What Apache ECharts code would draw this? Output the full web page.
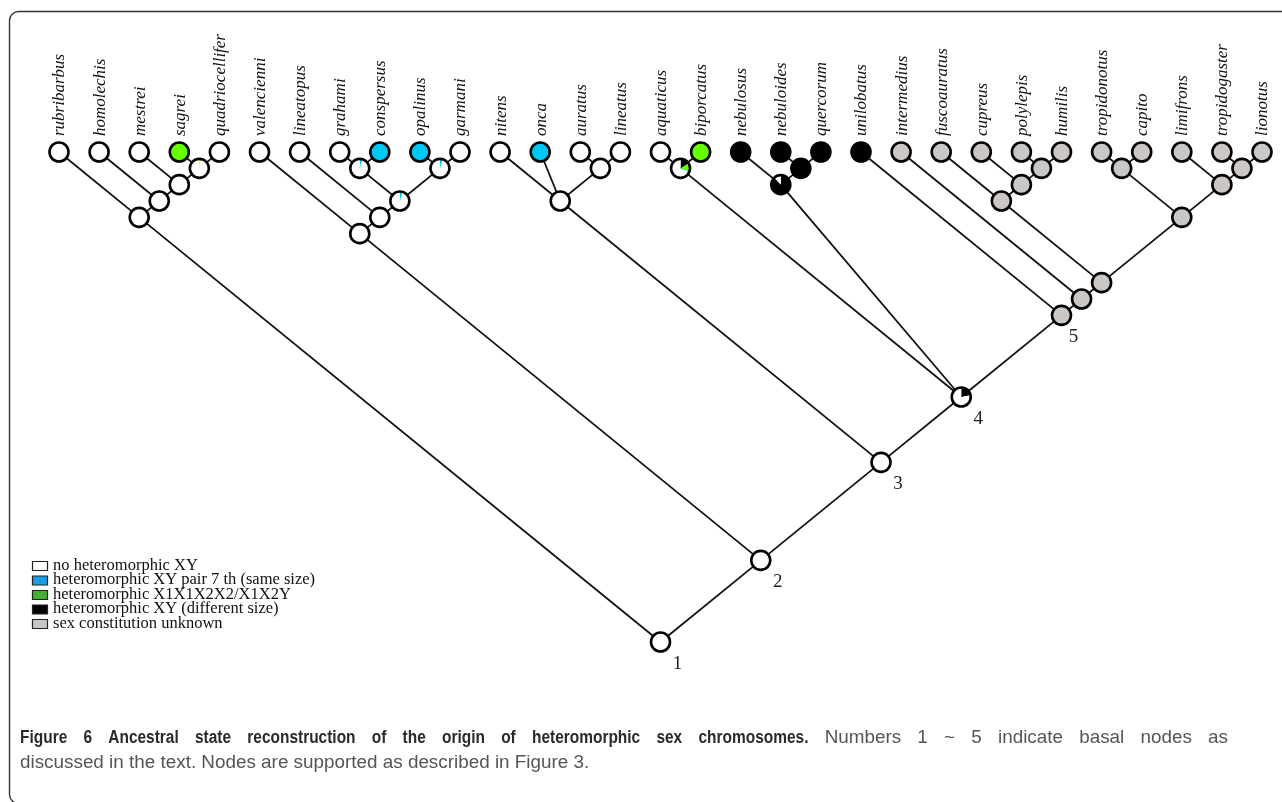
<!DOCTYPE html>
<html>
<head>
<meta charset="utf-8">
<title>Figure 6</title>
<script src="https://cdn.jsdelivr.net/npm/echarts@6/dist/echarts.min.js"></script>
<style>
  html, body { margin: 0; padding: 0; background: #fff; }
  #chart { width: 1282px; height: 802px; }
</style>
</head>
<body>
<div id="chart"></div>
<script>
// taxa, left to right along the top
const tips = ['rubribarbus', 'homolechis', 'mestrei', 'sagrei', 'quadriocellifer',
  'valencienni', 'lineatopus', 'grahami', 'conspersus', 'opalinus', 'garmani',
  'nitens', 'onca', 'auratus', 'lineatus', 'aquaticus', 'biporcatus',
  'nebulosus', 'nebuloides', 'quercorum', 'unilobatus', 'intermedius',
  'fuscoauratus', 'cupreus', 'polylepis', 'humilis', 'tropidonotus', 'capito',
  'limifrons', 'tropidogaster', 'lionotus']

// state order: 0 XY different size, 1 X1X1X2X2/X1X2Y, 2 XY pair 7, 3 none, 4 unknown
const stateColors = ['#000000', '#66ff00', '#00c8f5', '#ffffff', '#cbc7c5']
const tipStates = [3, 3, 3, 1, 3, 3, 3, 3, 2, 2, 3, 3, 2, 3, 3, 3, 1, 0, 0, 0, 0,
  4, 4, 4, 4, 4, 4, 4, 4, 4, 4]

// topology (tip indices), internal labels name the nodes below
const treeNewick = '((0,(1,(2,(3,4)sq))),((5,(6,((7,8)gc,(9,10)og)go)),((11,12,(13,14)),' +
  '((15,16)ab,(17,(18,19)k)nb,(20,(21,((22,(23,(24,25)u)u)u,((26,27)u,(28,(29,30)u)u)u)u)u)n5)n4)n3)n2)n1'

// reconstructed state shares of internal nodes (clockwise from 12 o'clock)
const pieNodes = ['n4', 'n5', 'sq', 'gc', 'og', 'go', 'ab', 'nb', 'k', 'u']
const pieShares = [
  [0.22, 0, 0, 0.78, 0],
  [0, 0, 0, 0, 1],
  [0, 0.03, 0, 0.97, 0],
  [0, 0, 0.05, 0.95, 0],
  [0, 0, 0.05, 0.95, 0],
  [0, 0, 0.05, 0.95, 0],
  [0.16, 0.14, 0.02, 0.68, 0],
  [0.88, 0, 0, 0.12, 0],
  [1, 0, 0, 0, 0],
  [0, 0, 0, 0, 1]
]

const basalNodes = ['n1', 'n2', 'n3', 'n4', 'n5']
const basalLabels = ['1', '2', '3', '4', '5']

const legendLabels = ['no heteromorphic XY', 'heteromorphic XY pair 7 th (same size)',
  'heteromorphic X1X1X2X2/X1X2Y', 'heteromorphic XY (different size)', 'sex constitution unknown']
const legendColors = ['#ffffff', '#1a9be6', '#45b036', '#000000', '#cac7c5']

const captionTitle = 'Figure 6 Ancestral state reconstruction of the origin of heteromorphic sex chromosomes.'
const captionLine1 = 'Numbers 1 ~ 5 indicate basal nodes as'
const captionLine2 = 'discussed in the text. Nodes are supported as described in Figure 3.'

// parse the newick string
function parseNewick(s) {
  let i = 0
  function read() {
    const n = { children: [], label: '' }
    if (s[i] === '(') {
      i++
      n.children.push(read())
      while (s[i] === ',') {
        i++
        n.children.push(read())
      }
      i++
    }
    let tok = ''
    while (i < s.length && /\w/.test(s[i])) tok += s[i++]
    if (n.children.length) n.label = tok
    else n.tip = +tok
    return n
  }
  return read()
}

// diagonal cladogram: a node sits midway over its tips, as high as half its span
const nodes = []
const edges = []
function place(n) {
  if (!n.children.length) {
    n.lo = n.hi = n.tip
  } else {
    n.children.forEach(place)
    n.lo = Math.min(...n.children.map(c => c.lo))
    n.hi = Math.max(...n.children.map(c => c.hi))
  }
  n.x = (n.lo + n.hi) / 2
  n.y = (n.hi - n.lo) / 2
  n.children.forEach(c => edges.push([n.x, n.y, c.x, c.y]))
  nodes.push(n)
}
place(parseNewick(treeNewick))

function sharesOf(n) {
  if (!n.children.length) return stateColors.map((c, k) => (k === tipStates[n.tip] ? 1 : 0))
  const idx = pieNodes.indexOf(n.label)
  return idx >= 0 ? pieShares[idx] : [0, 0, 0, 1, 0]
}

const R = 9.5
const tipFont = 'italic 17px "Liberation Serif", "DejaVu Serif", serif'
const numFont = '19px "Liberation Serif", serif'

function renderNode(params, api) {
  const n = nodes[params.dataIndex]
  const p = api.coord([api.value(0), api.value(1)])
  const els = []
  let a = -Math.PI / 2
  sharesOf(n).forEach((f, k) => {
    if (f <= 0) return
    if (f >= 1) {
      els.push({ type: 'circle', shape: { cx: p[0], cy: p[1], r: R }, style: { fill: stateColors[k] } })
    } else {
      els.push({
        type: 'sector',
        shape: { cx: p[0], cy: p[1], r0: 0, r: R, startAngle: a, endAngle: a + f * Math.PI * 2, clockwise: true },
        style: { fill: stateColors[k] }
      })
    }
    a += f * Math.PI * 2
  })
  els.push({ type: 'circle', shape: { cx: p[0], cy: p[1], r: R }, style: { fill: 'none', stroke: '#000', lineWidth: 2.6 } })
  if (!n.children.length) {
    els.push({
      type: 'text', x: p[0] + 1, y: p[1] - 16, rotation: Math.PI / 2,
      style: { text: tips[n.tip], font: tipFont, fill: '#111', textAlign: 'left', textVerticalAlign: 'middle' }
    })
  }
  const b = basalNodes.indexOf(n.label)
  if (b >= 0) {
    els.push({
      type: 'text', x: p[0] + (n.label === 'n5' ? 12 : 17), y: p[1] + 22,
      style: { text: basalLabels[b], font: numFont, fill: '#222', textAlign: 'center', textVerticalAlign: 'middle' }
    })
  }
  return { type: 'group', children: els }
}

function renderEdge(params, api) {
  const a = api.coord([api.value(0), api.value(1)])
  const b = api.coord([api.value(2), api.value(3)])
  return {
    type: 'line',
    shape: { x1: a[0], y1: a[1], x2: b[0], y2: b[1] },
    style: { stroke: '#111', lineWidth: 1.8 }
  }
}

// caption: first line justified word by word, like the printed figure
const measure = document.createElement('canvas').getContext('2d')
function textWidth(font, t) {
  measure.font = font
  return measure.measureText(t).width
}
const capFamily = '"Liberation Sans", Arial, sans-serif'
const capSize = 19 * 570 / textWidth('19px ' + capFamily, captionLine2)
const capReg = capSize.toFixed(2) + 'px ' + capFamily
const capBold = 'bold ' + capReg
const boldScale = 0.82
const words = captionTitle.split(' ').map(w => ({ w, font: capBold, fill: '#2a2a2a', sx: boldScale }))
  .concat(captionLine1.split(' ').map(w => ({ w, font: capReg, fill: '#555', sx: 1 })))
const used = words.reduce((s, o) => s + textWidth(o.font, o.w) * o.sx, 0)
const gap = (1228 - 20 - used) / (words.length - 1)
const captionEls = []
let cx = 20
words.forEach(o => {
  captionEls.push({
    type: 'text', x: cx, y: 738, scaleX: o.sx, silent: true,
    style: { text: o.w, font: o.font, fill: o.fill, textAlign: 'left', textVerticalAlign: 'middle' }
  })
  cx += textWidth(o.font, o.w) * o.sx + gap
})
captionEls.push({
  type: 'text', x: 20, y: 763, silent: true,
  style: { text: captionLine2, font: capReg, fill: '#555', textAlign: 'left', textVerticalAlign: 'middle' }
})

const legendEls = []
legendLabels.forEach((t, k) => {
  const y = 565.5 + k * 14.5
  legendEls.push({
    type: 'rect', silent: true,
    shape: { x: 32.5, y: y - 4, width: 15, height: 9 },
    style: { fill: legendColors[k], stroke: '#222', lineWidth: 1.2 }
  })
  legendEls.push({
    type: 'text', x: 53, y: y, silent: true,
    style: { text: t, font: '16.5px "Liberation Serif", serif', fill: '#111', textAlign: 'left', textVerticalAlign: 'middle' }
  })
})

const chart = echarts.init(document.getElementById('chart'))
chart.setOption({
  animation: false,
  grid: { left: 59, right: 20, top: 152, bottom: 160 },
  xAxis: { type: 'value', min: 0, max: tips.length - 1, show: false },
  yAxis: { type: 'value', min: 0, max: (tips.length - 1) / 2, inverse: true, show: false },
  graphic: [
    {
      type: 'rect', silent: true,
      shape: { x: 9.5, y: 11.5, width: 1300, height: 792, r: [9, 0, 0, 9] },
      style: { fill: 'none', stroke: '#333', lineWidth: 1.4 }
    },
    ...legendEls,
    ...captionEls
  ],
  series: [
    {
      type: 'custom',
      renderItem: renderEdge,
      data: edges,
      encode: { x: [0, 2], y: [1, 3] },
      clip: false,
      silent: true,
      z: 1
    },
    {
      type: 'custom',
      renderItem: renderNode,
      data: nodes.map(n => [n.x, n.y]),
      encode: { x: 0, y: 1 },
      clip: false,
      silent: true,
      z: 2
    }
  ]
})
</script>
</body>
</html>
